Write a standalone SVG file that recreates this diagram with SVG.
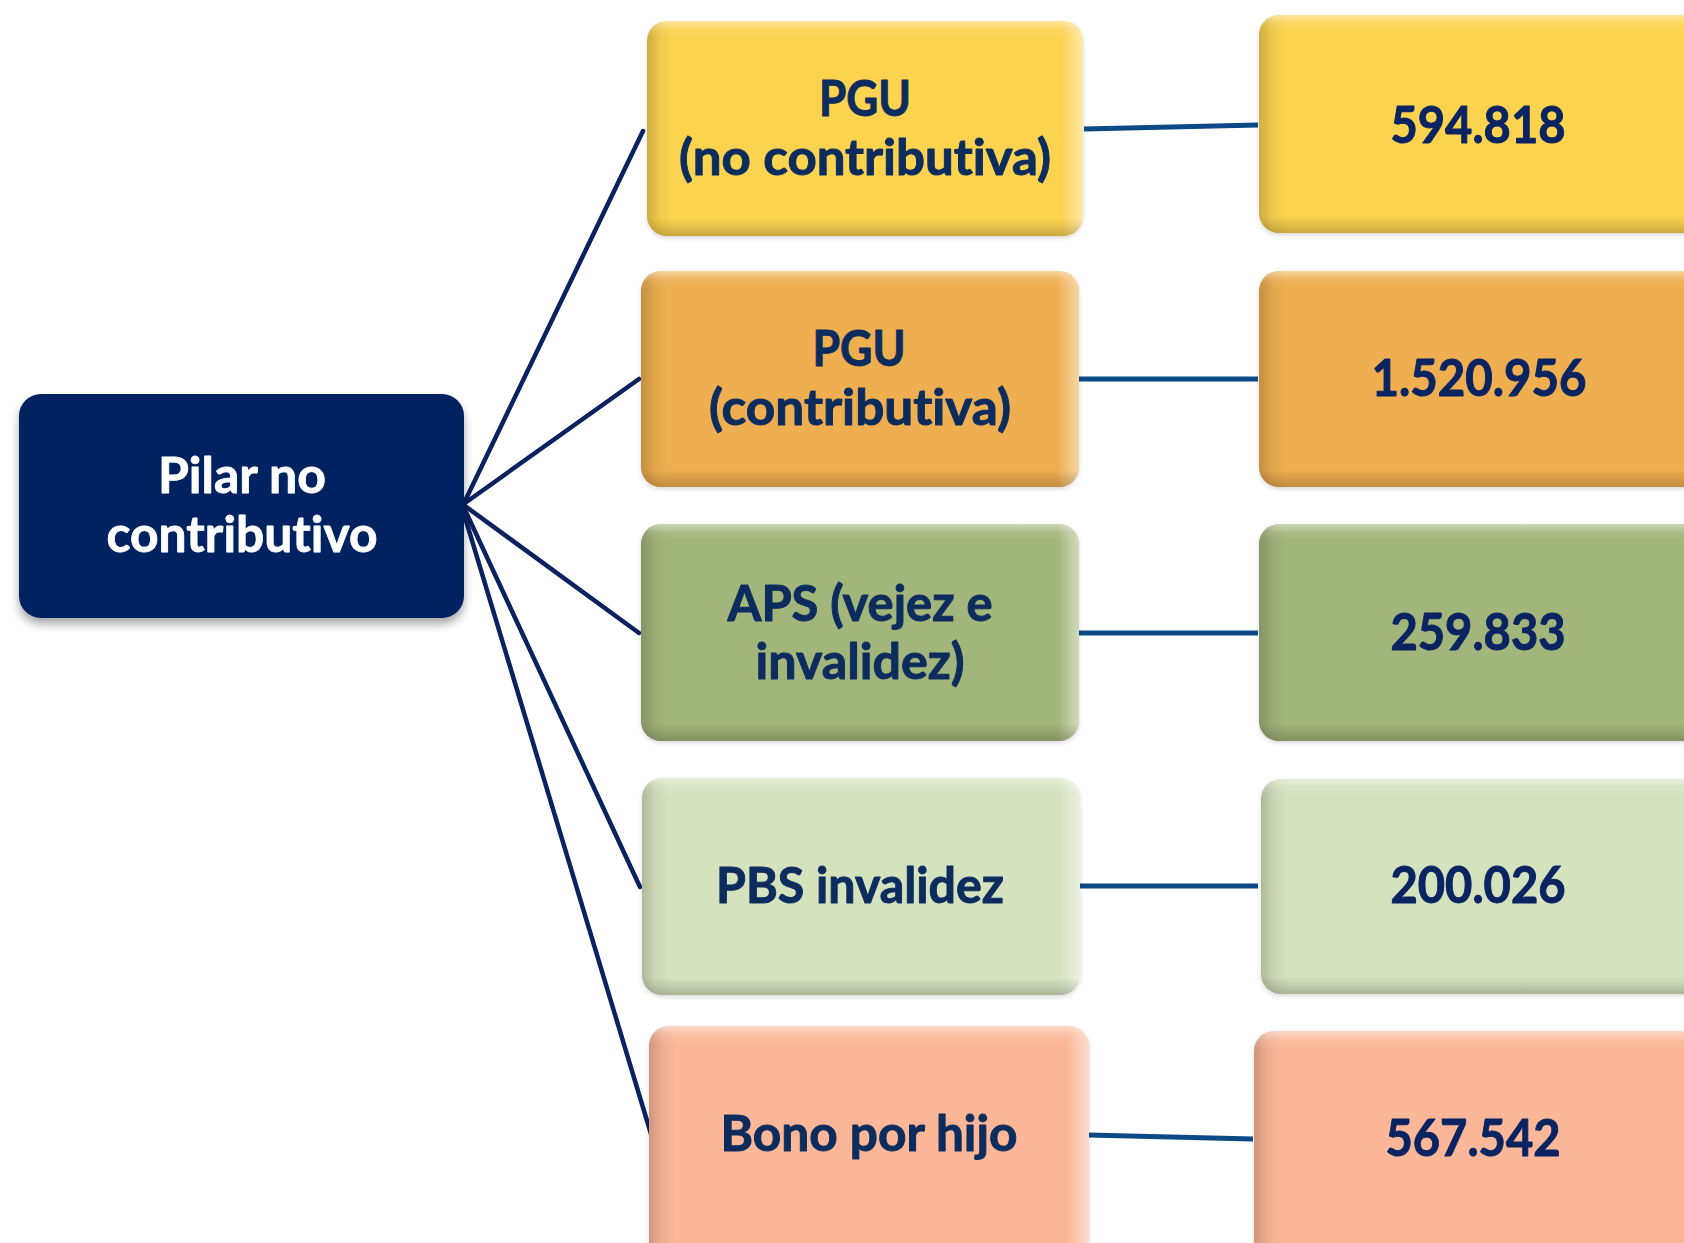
<svg xmlns="http://www.w3.org/2000/svg" width="1684" height="1243" viewBox="0 0 1684 1243">
<defs>
<linearGradient id="hx" x1="0" y1="0" x2="1" y2="0">
<stop offset="0" stop-color="#000" stop-opacity="0.18"/>
<stop offset="0.03" stop-color="#000" stop-opacity="0.05"/>
<stop offset="0.06" stop-color="#000" stop-opacity="0"/>
<stop offset="0.95" stop-color="#fff" stop-opacity="0"/>
<stop offset="0.985" stop-color="#fff" stop-opacity="0.35"/>
<stop offset="1" stop-color="#fff" stop-opacity="0.5"/>
</linearGradient>
<linearGradient id="hy" x1="0" y1="0" x2="0" y2="1">
<stop offset="0" stop-color="#fff" stop-opacity="0.45"/>
<stop offset="0.04" stop-color="#fff" stop-opacity="0.1"/>
<stop offset="0.08" stop-color="#fff" stop-opacity="0"/>
<stop offset="0.92" stop-color="#000" stop-opacity="0"/>
<stop offset="0.97" stop-color="#000" stop-opacity="0.12"/>
<stop offset="1" stop-color="#000" stop-opacity="0.2"/>
</linearGradient>
<filter id="sh" x="-10%" y="-10%" width="120%" height="125%">
<feDropShadow dx="0" dy="6" stdDeviation="5" flood-color="#000" flood-opacity="0.35"/>
</filter>
<filter id="sh2" x="-5%" y="-5%" width="110%" height="115%">
<feDropShadow dx="0" dy="2" stdDeviation="2" flood-color="#000" flood-opacity="0.15"/>
</filter>
</defs>
<style>
text{font-family:Lato,"Open Sans","Liberation Sans",sans-serif;font-weight:700;text-anchor:middle;font-variant-ligatures:none;font-feature-settings:"liga" 0,"clig" 0;stroke-linejoin:round}
.lbl{font-size:50px;fill:#0d2c5e;stroke:#0d2c5e;stroke-width:1}
.num{font-size:52px;fill:#0a2462;stroke:#0a2462;stroke-width:1}
.root{font-size:50px;fill:#ffffff;stroke:#ffffff;stroke-width:0.8}
.c1{fill:#fcd34f}
.c2{fill:#efae4f}
.c3{fill:#a2b57a}
.c4{fill:#d5e2be}
.c5{fill:#fbb798}
.lk{stroke:#0b2160;stroke-width:4.5;fill:none;stroke-linecap:round}
.hl{stroke:#0b4a86;stroke-width:5;fill:none}
</style>

<g id="connectors">
<line class="lk" x1="465" y1="501" x2="643" y2="131"/>
<line class="lk" x1="465" y1="503" x2="639" y2="379"/>
<line class="lk" x1="465" y1="506" x2="639" y2="633"/>
<line class="lk" x1="465" y1="510" x2="640" y2="887"/>
<line class="lk" x1="464" y1="514" x2="651" y2="1134"/>
<line class="hl" x1="1084" y1="129" x2="1258" y2="125"/>
<line class="hl" x1="1078" y1="379" x2="1258" y2="379"/>
<line class="hl" x1="1078" y1="633" x2="1258" y2="633"/>
<line class="hl" x1="1078" y1="886" x2="1258" y2="886"/>
<line class="hl" x1="1088" y1="1135" x2="1253" y2="1139"/>
</g>

<g id="root">
<rect x="19" y="394" width="445" height="224" rx="22" fill="#012060" filter="url(#sh)"/>
<text class="root" x="242" y="493" textLength="168" lengthAdjust="spacingAndGlyphs">Pilar no</text>
<text class="root" x="242" y="552" textLength="271" lengthAdjust="spacingAndGlyphs">contributivo</text>
</g>

<g id="pgu-nc">
<rect class="c1" x="647" y="21" width="436" height="215" rx="20" filter="url(#sh2)"/>
<rect x="647" y="21" width="436" height="215" rx="20" fill="url(#hx)"/>
<rect x="647" y="21" width="436" height="215" rx="20" fill="url(#hy)"/>
<text class="lbl" x="865" y="116" textLength="92" lengthAdjust="spacingAndGlyphs">PGU</text>
<text class="lbl" x="865" y="175" textLength="372" lengthAdjust="spacingAndGlyphs">(no contributiva)</text>
</g>

<g id="pgu-c">
<rect class="c2" x="641" y="271" width="438" height="216" rx="20" filter="url(#sh2)"/>
<rect x="641" y="271" width="438" height="216" rx="20" fill="url(#hx)"/>
<rect x="641" y="271" width="438" height="216" rx="20" fill="url(#hy)"/>
<text class="lbl" x="859" y="366" textLength="93" lengthAdjust="spacingAndGlyphs">PGU</text>
<text class="lbl" x="860" y="425" textLength="302" lengthAdjust="spacingAndGlyphs">(contributiva)</text>
</g>

<g id="aps">
<rect class="c3" x="641" y="524" width="438" height="217" rx="20" filter="url(#sh2)"/>
<rect x="641" y="524" width="438" height="217" rx="20" fill="url(#hx)"/>
<rect x="641" y="524" width="438" height="217" rx="20" fill="url(#hy)"/>
<text class="lbl" x="860" y="621" textLength="265" lengthAdjust="spacingAndGlyphs">APS (vejez e</text>
<text class="lbl" x="860" y="679" textLength="209" lengthAdjust="spacingAndGlyphs">invalidez)</text>
</g>

<g id="pbs">
<rect class="c4" x="642" y="778" width="438" height="217" rx="20" filter="url(#sh2)"/>
<rect x="642" y="778" width="438" height="217" rx="20" fill="url(#hx)"/>
<rect x="642" y="778" width="438" height="217" rx="20" fill="url(#hy)"/>
<text class="lbl" x="860" y="903" textLength="288" lengthAdjust="spacingAndGlyphs">PBS invalidez</text>
</g>

<g id="bono">
<rect class="c5" x="649" y="1026" width="440" height="240" rx="20" filter="url(#sh2)"/>
<rect x="649" y="1026" width="440" height="240" rx="20" fill="url(#hx)"/>
<rect x="649" y="1026" width="440" height="240" rx="20" fill="url(#hy)"/>
<text class="lbl" x="869" y="1151" textLength="297" lengthAdjust="spacingAndGlyphs">Bono por hijo</text>
</g>

<g id="v1">
<rect class="c1" x="1259" y="15" width="460" height="218" rx="20" filter="url(#sh2)"/>
<rect x="1259" y="15" width="460" height="218" rx="20" fill="url(#hx)"/>
<rect x="1259" y="15" width="460" height="218" rx="20" fill="url(#hy)"/>
<text class="num" x="1478" y="143" textLength="175" lengthAdjust="spacingAndGlyphs">594.818</text>
</g>

<g id="v2">
<rect class="c2" x="1259" y="271" width="460" height="216" rx="20" filter="url(#sh2)"/>
<rect x="1259" y="271" width="460" height="216" rx="20" fill="url(#hx)"/>
<rect x="1259" y="271" width="460" height="216" rx="20" fill="url(#hy)"/>
<text class="num" x="1479" y="396" textLength="215" lengthAdjust="spacingAndGlyphs">1.520.956</text>
</g>

<g id="v3">
<rect class="c3" x="1259" y="524" width="460" height="217" rx="20" filter="url(#sh2)"/>
<rect x="1259" y="524" width="460" height="217" rx="20" fill="url(#hx)"/>
<rect x="1259" y="524" width="460" height="217" rx="20" fill="url(#hy)"/>
<text class="num" x="1478" y="650" textLength="175" lengthAdjust="spacingAndGlyphs">259.833</text>
</g>

<g id="v4">
<rect class="c4" x="1261" y="779" width="460" height="215" rx="20" filter="url(#sh2)"/>
<rect x="1261" y="779" width="460" height="215" rx="20" fill="url(#hx)"/>
<rect x="1261" y="779" width="460" height="215" rx="20" fill="url(#hy)"/>
<text class="num" x="1478" y="903" textLength="175" lengthAdjust="spacingAndGlyphs">200.026</text>
</g>

<g id="v5">
<rect class="c5" x="1254" y="1031" width="466" height="240" rx="20" filter="url(#sh2)"/>
<rect x="1254" y="1031" width="466" height="240" rx="20" fill="url(#hx)"/>
<rect x="1254" y="1031" width="466" height="240" rx="20" fill="url(#hy)"/>
<text class="num" x="1473" y="1156" textLength="175" lengthAdjust="spacingAndGlyphs">567.542</text>
</g>
</svg>
